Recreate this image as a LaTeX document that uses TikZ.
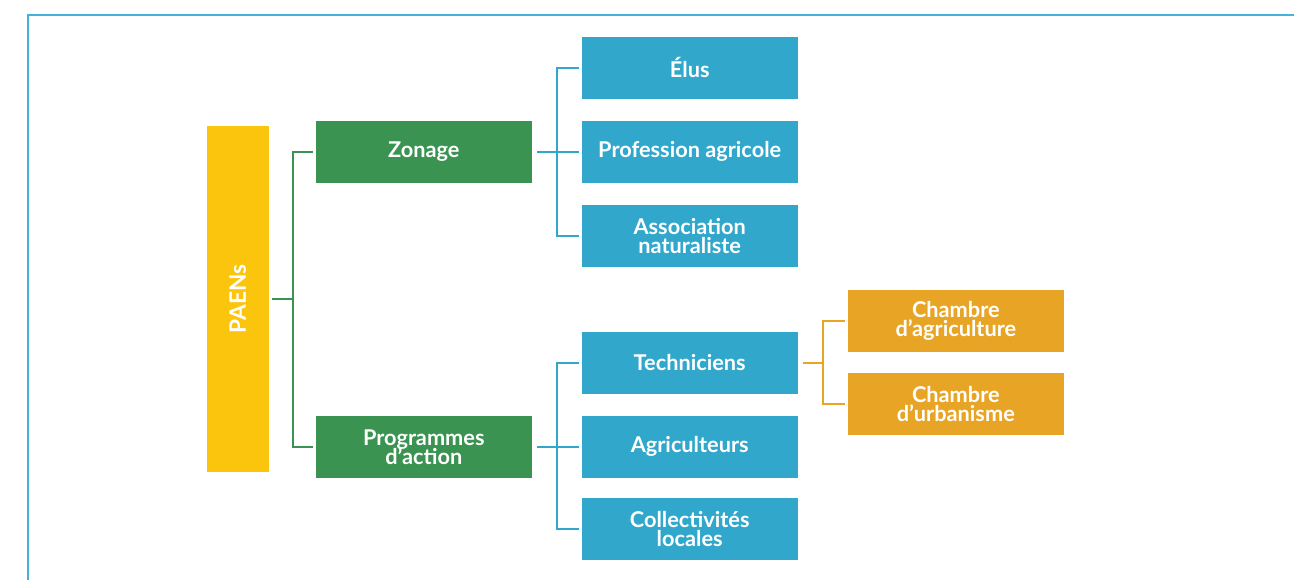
\documentclass[tikz,border=0pt]{standalone}
\usepackage{fontspec}
\setmainfont{Lato}[UprightFont=* Bold]
\usetikzlibrary{calc}
\definecolor{frameblue}{HTML}{45B3D9}
\definecolor{boxblue}{HTML}{31A8CB}
\definecolor{boxgreen}{HTML}{3A9350}
\definecolor{boxorange}{HTML}{E8A425}
\definecolor{boxyellow}{HTML}{FCC50D}
\newcommand{\myboxfont}{\fontsize{16.3}{14.2}\selectfont\lineskiplimit=-100pt }
\tikzset{
  box/.style={inner sep=0pt, minimum width=162pt, minimum height=46.5pt, align=center, text=white,
    font=\myboxfont},
  greenbox/.style={box, fill=boxgreen},
  bluebox/.style={box, fill=boxblue},
  orangebox/.style={box, fill=boxorange},
  paenbox/.style={box, fill=boxyellow, minimum width=46.5pt, minimum height=259.5pt,
    font=\fontsize{17}{14}\selectfont},
  gline/.style={draw=boxgreen, line width=1.5pt},
  bline/.style={draw=boxblue, line width=1.5pt},
  oline/.style={draw=boxorange, line width=1.5pt},
}
\begin{document}
\begin{tikzpicture}[x=0.75pt, y=-0.75pt]
\useasboundingbox (0,0) rectangle (1294,580);
\draw[frameblue, line width=1.5pt] (1295,15) -- (27.5,15) -- (27.5,581);

\node[paenbox] (paen) at (237.7,298.8) {\rotatebox{90}{PAENs}};
\node[greenbox] (zon) at (423.8,151.8) {Zonage};
\node[greenbox] (prog) at (423.8,446.8) {Programmes\\d’action};

\node[bluebox] (elus) at (689.7,67.8) {Élus};
\node[bluebox] (prof) at (689.7,151.8) {Profession agricole};
\node[bluebox] (asso) at (689.7,235.8) {Association\\naturaliste};
\node[bluebox] (tech) at (689.7,362.8) {Techniciens};
\node[bluebox] (agri) at (689.7,446.8) {Agriculteurs};
\node[bluebox] (coll) at (689.7,528.8) {Collectivités\\locales};

\node[orangebox] (cagri) at (955.8,320.8) {Chambre\\d’agriculture};
\node[orangebox] (curb) at (955.8,404.2) {Chambre\\d’urbanisme};

% green connectors
\coordinate (gbus) at (293.3,0);
\draw[gline] ($(paen.east)+(3,0)$) -- (gbus |- paen.east);
\draw[gline] ($(zon.west)+(-2.7,0)$) -| (gbus |- paen.east) |- ($(prog.west)+(-2.7,0)$);

% blue connectors (zonage)
\coordinate (bbus) at (556.7,0);
\draw[bline] ($(zon.east)+(5,0)$) -- ($(prof.west)+(-2.4,0)$);
\draw[bline] ($(elus.west)+(-2.4,0)$) -| (bbus |- prof.west) |- ($(asso.west)+(-2.4,0)$);

% blue connectors (programmes)
\draw[bline] ($(prog.east)+(5,0)$) -- ($(agri.west)+(-2.4,0)$);
\draw[bline] ($(tech.west)+(-2.4,0)$) -| (bbus |- agri.west) |- ($(coll.west)+(-2.4,0)$);

% orange connectors
\coordinate (obus) at (823.3,0);
\draw[oline] ($(tech.east)+(4.6,0)$) -- (obus |- tech.east);
\draw[oline] ($(cagri.west)+(-2.6,0)$) -| (obus |- tech.east) |- ($(curb.west)+(-2.6,0)$);
\end{tikzpicture}
\end{document}
